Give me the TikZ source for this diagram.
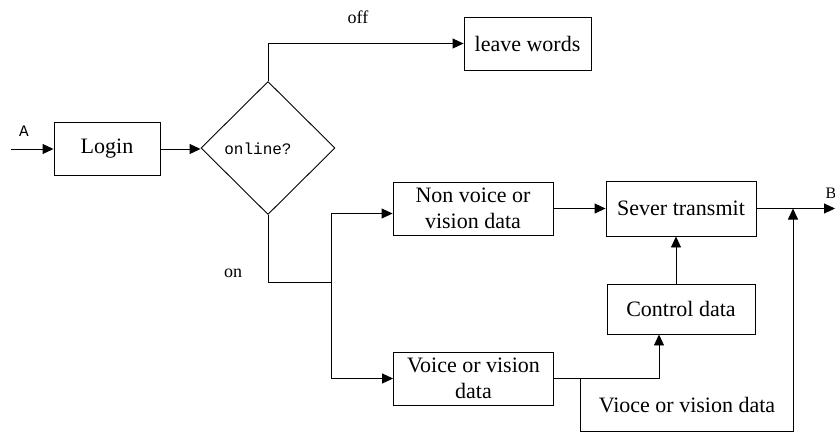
\documentclass[tikz,border=0pt]{standalone}
\usepackage{fontspec}
\setmainfont{Liberation Serif}
\newfontfamily\monof{Liberation Mono}
\usetikzlibrary{shapes.geometric,arrows.meta}
\begin{document}
\begin{tikzpicture}[x=1pt,y=-1pt,
  every path/.style={line width=0.9pt},
  conn/.style={-{Triangle[length=11pt,width=10pt]}},
  box/.style={draw,line width=0.9pt,rectangle,inner sep=0pt,align=center,
    font=\fontsize{22}{26}\selectfont},
  lbl/.style={inner sep=0pt,font=\fontsize{18}{20}\selectfont},
  monolbl/.style={inner sep=0pt,font=\monof\fontsize{16}{18}\selectfont}]
\useasboundingbox (0,0) rectangle (835,432);
% nodes
\node[box,minimum width=106pt,minimum height=53pt] (login) at (107,149) {Login};
\node[draw,diamond,line width=0.9pt,inner sep=0pt,minimum width=134pt,minimum height=133pt] (dia) at (268,148) {};
\node[monolbl] (onl) at (258,149) {online?};
\node[box,minimum width=127pt,minimum height=53pt] (leave) at (527.5,43.5) {leave words};
\node[box,minimum width=160pt,minimum height=53pt] (nonv) at (473,208.5) {Non voice or\\vision data};
\node[box,minimum width=150pt,minimum height=55pt] (sever) at (681,208.5) {Sever transmit};
\node[box,minimum width=148pt,minimum height=50pt] (ctrl) at (681,309) {Control data};
\node[box,minimum width=160pt,minimum height=53pt] (voice) at (473.5,378.5) {Voice or vision\\data};
% labels
\node[monolbl] (la) at (24,131) {A};
\node[inner sep=0pt,font=\fontsize{16}{18}\selectfont] (lb) at (831,193) {B};
\node[lbl] (loff) at (358,17) {off};
\node[lbl] (lon) at (233,273) {on};
\node[inner sep=0pt,font=\fontsize{22}{26}\selectfont] (lvio) at (687,405) {Vioce or vision data};
% coordinates
\coordinate (ain) at (11,149);
\coordinate (j1) at (331,282);
\coordinate (j2) at (580,378.5);
\coordinate (j3) at (793,208.5);
\coordinate (bout) at (835,208.5);
% connectors
\draw[conn] (ain) -- (login.west);
\draw[conn] (login.east) -- (login.east -| dia.west);
\draw[conn] (dia.north) |- (leave.west);
\draw (dia.south) |- (j1);
\draw[conn] (j1) |- ([yshift=-5pt]nonv.west);
\draw[conn] (j1) |- (voice.west);
\draw[conn] (nonv.east) -- (sever.west);
\draw[conn] (sever.east) -- (bout);
\draw[conn] ([xshift=-5pt]ctrl.north) -- ([xshift=-5pt]sever.south);
\draw[conn] (voice.east) -| ([xshift=-22pt]ctrl.south);
\draw[conn] (j2) -- ++(0,52.5) -| (j3);
\end{tikzpicture}
\end{document}
